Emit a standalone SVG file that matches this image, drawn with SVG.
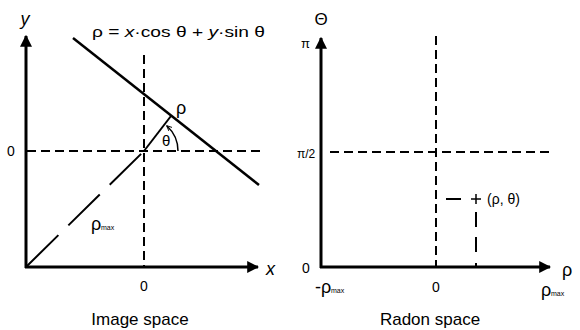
<svg xmlns="http://www.w3.org/2000/svg" width="580" height="330" viewBox="0 0 580 330">
<defs>
<marker id="ah" viewBox="0 0 10 10" refX="9" refY="5" markerWidth="4" markerHeight="4" orient="auto-start-reverse" markerUnits="strokeWidth"><path d="M0,0 L10,5 L0,10 Z" fill="#000"/></marker>
<marker id="sa" viewBox="0 0 10 10" refX="8" refY="5" markerWidth="6" markerHeight="6" orient="auto" markerUnits="userSpaceOnUse"><path d="M0,1 L9,5 L0,9" fill="none" stroke="#000" stroke-width="1.5"/></marker>
</defs>
<style>
text{font-family:"Liberation Sans",Arial,sans-serif;fill:#000}
.axis{stroke:#000;stroke-width:3;fill:none}
.dash{stroke:#000;stroke-width:2;stroke-dasharray:9,5;fill:none}
.lbl{font-size:14px}
.big{font-size:18px}
.cap{font-size:17px;text-anchor:middle}
.sub{font-size:7px}
</style>
<rect width="580" height="330" fill="#fff"/>
<g id="connectors">
<line class="axis" x1="26" y1="268" x2="26" y2="36" marker-end="url(#ah)"/>
<line class="axis" x1="25" y1="267" x2="258" y2="267" marker-end="url(#ah)"/>
<line class="dash" x1="27" y1="151" x2="262" y2="151"/>
<line class="dash" x1="144" y1="55" x2="144" y2="267"/>
<line x1="73" y1="38" x2="259" y2="185" stroke="#000" stroke-width="2.5"/>
<line x1="144" y1="151" x2="171" y2="116" stroke="#000" stroke-width="2"/>
<line x1="27" y1="266" x2="144" y2="151" stroke="#000" stroke-width="2" stroke-dasharray="44,14"/>
<path d="M178,151 A34,34 0 0 0 167,126" fill="none" stroke="#000" stroke-width="1.5" marker-end="url(#sa)"/>
<line class="axis" x1="321" y1="268" x2="321" y2="38" marker-end="url(#ah)"/>
<line class="axis" x1="320" y1="267" x2="550" y2="267" marker-end="url(#ah)"/>
<line class="dash" x1="330" y1="152" x2="553" y2="152"/>
<line class="dash" x1="436" y1="36" x2="436" y2="267"/>
<line x1="446" y1="199" x2="461" y2="199" stroke="#000" stroke-width="2"/>
<line x1="471" y1="199" x2="481" y2="199" stroke="#000" stroke-width="1.5"/>
<line x1="476" y1="194" x2="476" y2="204" stroke="#000" stroke-width="1.5"/>
<line x1="476" y1="212" x2="476" y2="227" stroke="#000" stroke-width="2"/>
<line x1="476" y1="237" x2="476" y2="252" stroke="#000" stroke-width="2"/>
<line x1="476" y1="263" x2="476" y2="267" stroke="#000" stroke-width="2"/>
</g>
<g id="left-labels">
<text x="25" y="25" font-size="18" font-style="italic" text-anchor="middle">y</text>
<text x="92" y="37" font-size="15" textLength="173" lengthAdjust="spacingAndGlyphs">ρ = <tspan font-style="italic">x</tspan>·cos θ + <tspan font-style="italic">y</tspan>·sin θ</text>
<text x="176" y="114" class="big">ρ</text>
<text x="162" y="146" font-size="15">θ</text>
<text x="7" y="156" class="lbl">0</text>
<text x="91" y="230" class="big">ρ</text>
<text x="101" y="230" class="sub">max</text>
<text x="266" y="275" font-size="18" font-style="italic">x</text>
<text x="144" y="291" class="lbl" text-anchor="middle">0</text>
<text x="140" y="325" class="cap">Image space</text>
</g>
<g id="right-labels">
<text x="321" y="25" font-size="17" text-anchor="middle" font-family="DejaVu Serif, serif">Θ</text>
<text x="301" y="48" font-size="13" font-family="Liberation Serif, serif">π</text>
<text x="297" y="158" font-size="12">π/2</text>
<text x="302" y="273" class="lbl">0</text>
<text x="315" y="293" class="big">-ρ</text>
<text x="331" y="293" class="sub">max</text>
<text x="436" y="292" class="lbl" text-anchor="middle">0</text>
<text x="541" y="296" class="big">ρ</text>
<text x="551" y="296" class="sub">max</text>
<text x="562" y="276" class="big">ρ</text>
<text x="487" y="204" font-size="14">(ρ, θ)</text>
<text x="430" y="325" class="cap">Radon space</text>
</g>
</svg>
